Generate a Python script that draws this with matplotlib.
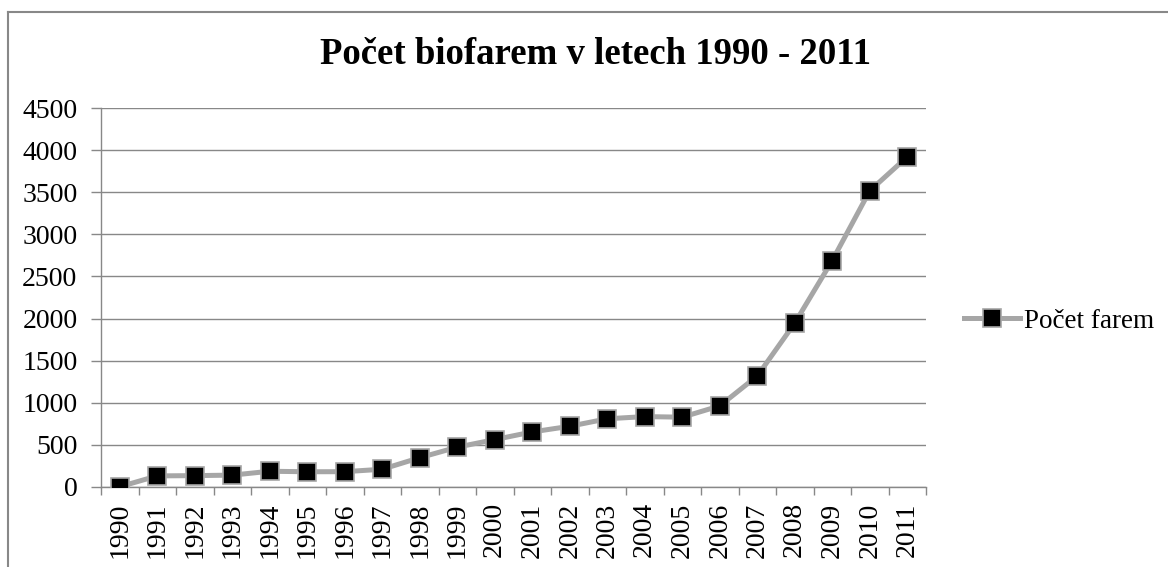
import matplotlib.pyplot as plt
from matplotlib.lines import Line2D

# Données
roky = [str(r) for r in range(1990, 2012)]
pocet_farem = [3, 132, 135, 141, 187, 181, 182, 211, 348, 473, 563, 654,
               721, 810, 836, 829, 963, 1318, 1946, 2689, 3517, 3920]
y_ticks = [0, 500, 1000, 1500, 2000, 2500, 3000, 3500, 4000, 4500]

plt.rcParams['font.family'] = ['Liberation Serif', 'DejaVu Serif']

W, H = 1168, 567
fig = plt.figure(figsize=(W / 100, H / 100), dpi=100)

# cadre du graphique (seulement haut et gauche visibles)
fig.add_artist(Line2D([8 / W, 8 / W], [0, 1 - 12 / H], color='#888888', lw=1.5,
                      transform=fig.transFigure))
fig.add_artist(Line2D([8 / W, 1], [1 - 12 / H, 1 - 12 / H], color='#888888', lw=1.5,
                      transform=fig.transFigure))

left, right, top, bottom = 101, 926, 108, 487
ax = fig.add_axes([left / W, 1 - bottom / H, (right - left) / W, (bottom - top) / H])

x = list(range(len(roky)))
ax.plot(x, pocet_farem, color='#A6A6A6', lw=3.6, marker='s', markersize=13.5,
        markerfacecolor='black', markeredgecolor='#A6A6A6', markeredgewidth=1.2,
        label='Počet farem', solid_joinstyle='round', zorder=3)

ax.set_xlim(-0.5, len(roky) - 0.5)
ax.set_ylim(0, 4500)
ax.set_yticks(y_ticks)
ax.set_yticklabels([str(v) for v in y_ticks], fontsize=20)
ax.set_xticks([i - 0.5 for i in range(len(roky) + 1)], minor=False)
ax.set_xticklabels([])
ax.set_xticks(x, minor=True)
ax.set_xticklabels(roky, minor=True, rotation=90, fontsize=20)
ax.tick_params(axis='x', which='minor', length=0, pad=11)
ax.tick_params(axis='x', which='major', length=6, width=1, color='#888888', direction='out')
ax.tick_params(axis='y', length=7, width=1, color='#888888', direction='out', pad=10)

ax.grid(axis='y', color='#888888', lw=1)
ax.set_axisbelow(True)
for s in ['top', 'right']:
    ax.spines[s].set_visible(False)
for s in ['left', 'bottom']:
    ax.spines[s].set_color('#888888')
    ax.spines[s].set_linewidth(1)

fig.text(595 / W, 1 - 54 / H, 'Počet biofarem v letech 1990 - 2011', ha='center', va='center',
         fontsize=26.5, fontweight='bold')

leg = ax.legend(loc='center left', bbox_to_anchor=(964 / W, 1 - 321 / H),
                bbox_transform=fig.transFigure, frameon=False, fontsize=19.5,
                handlelength=2.05, handletextpad=0.15, borderaxespad=0, borderpad=0)

fig.savefig('out.png', dpi=100)
